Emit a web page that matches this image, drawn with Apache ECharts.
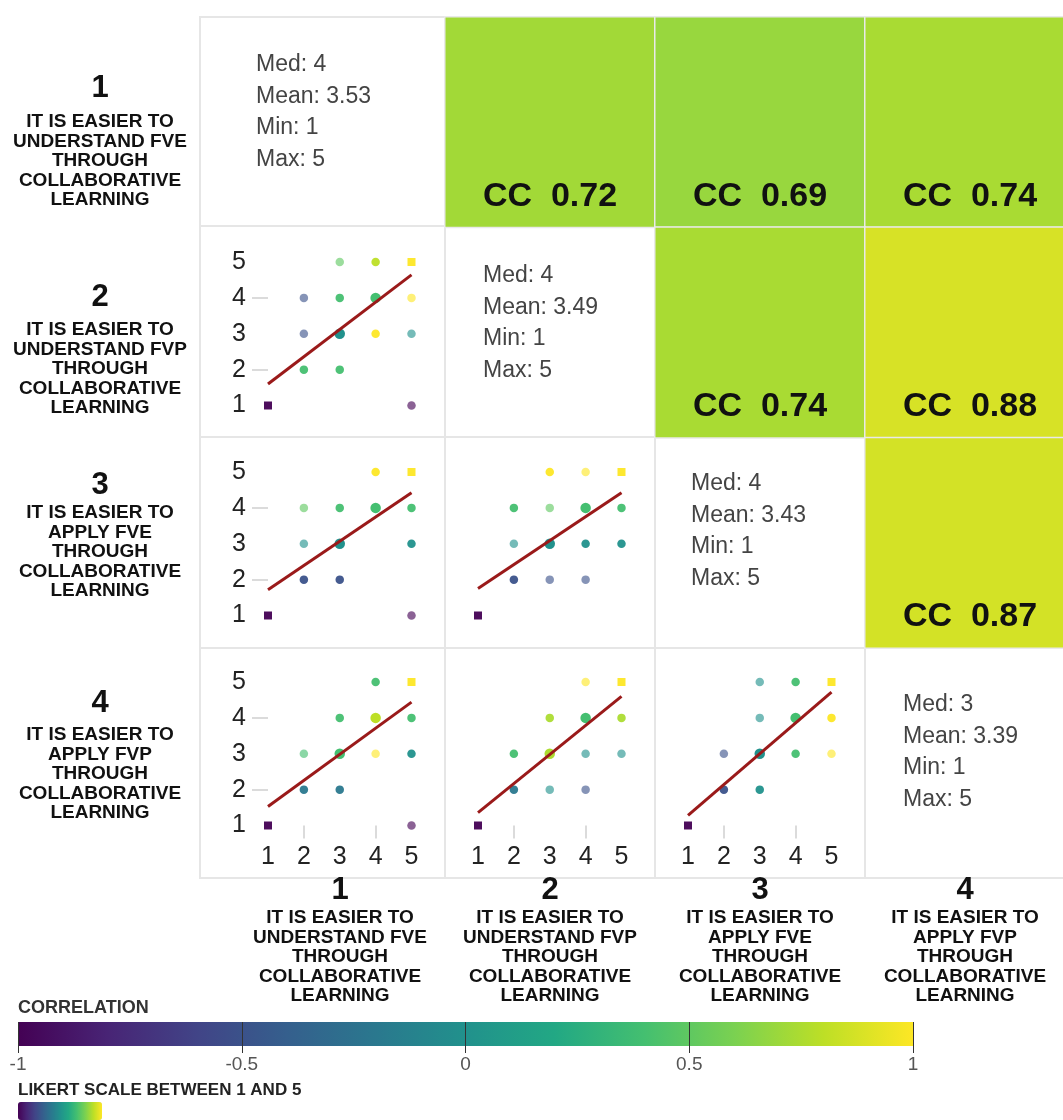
<!DOCTYPE html>
<html><head><meta charset="utf-8">
<script src="https://cdn.jsdelivr.net/npm/echarts@6/dist/echarts.min.js"></script>
<style>html,body{margin:0;padding:0;background:#fff}#c{width:1063px;height:1120px}</style>
</head><body><div id="c"></div>
<script>
// ---------------- DATA ----------------
const varNumbers = ['1', '2', '3', '4'];
const varLabels = [
  'IT IS EASIER TO\nUNDERSTAND FVE\nTHROUGH\nCOLLABORATIVE\nLEARNING',
  'IT IS EASIER TO\nUNDERSTAND FVP\nTHROUGH\nCOLLABORATIVE\nLEARNING',
  'IT IS EASIER TO\nAPPLY FVE\nTHROUGH\nCOLLABORATIVE\nLEARNING',
  'IT IS EASIER TO\nAPPLY FVP\nTHROUGH\nCOLLABORATIVE\nLEARNING'
];
const statMedian = [4, 4, 4, 3];
const statMean = [3.53, 3.49, 3.43, 3.39];
const statMin = [1, 1, 1, 1];
const statMax = [5, 5, 5, 5];
const likertTicks = ['1', '2', '3', '4', '5'];
const likertRange = [1, 5];
const corrRange = [-1, 1];
const corrTickStep = 0.5;
// [row variable, column variable, correlation coefficient]
const correlations = [
  [0, 1, 0.72], [0, 2, 0.69], [0, 3, 0.74],
  [1, 2, 0.74], [1, 3, 0.88],
  [2, 3, 0.87]
];
// scatter points: [x answer, y answer, colour value (Likert 1-5), overlap level 1-3]
const points_2v1 = [[1,1,1,2],[5,1,1,1],[2,2,3.8,2],[3,2,3.8,2],[2,3,2.0,1],[3,3,3.0,3],[4,3,5,2],[5,3,3.0,1],[2,4,2.0,1],[3,4,3.8,2],[4,4,3.8,3],[5,4,5,1],[3,5,4.0,1],[4,5,4.6,2],[5,5,5,2]];
const points_3v1 = [[1,1,1,2],[5,1,1,1],[2,2,2.0,2],[3,2,2.0,2],[2,3,3.0,1],[3,3,3.0,3],[5,3,3.0,2],[2,4,4.0,1],[3,4,3.8,2],[4,4,3.8,3],[5,4,3.8,2],[4,5,5,2],[5,5,5,2]];
const points_3v2 = [[1,1,1,2],[2,2,2.0,2],[3,2,2.0,1],[4,2,2.0,1],[2,3,3.0,1],[3,3,3.0,3],[4,3,3.0,2],[5,3,3.0,2],[2,4,3.8,2],[3,4,4.0,1],[4,4,3.8,3],[5,4,3.8,2],[3,5,5,2],[4,5,5,1],[5,5,5,2]];
const points_4v1 = [[1,1,1,2],[5,1,1,1],[2,2,2.6,2],[3,2,2.6,2],[2,3,3.8,1],[3,3,3.8,3],[4,3,5,1],[5,3,3.0,2],[3,4,3.8,2],[4,4,4.6,3],[5,4,3.8,2],[4,5,3.8,2],[5,5,5,2]];
const points_4v2 = [[1,1,1,2],[2,2,2.6,2],[3,2,3.0,1],[4,2,2.0,1],[2,3,3.8,2],[3,3,4.5,3],[4,3,3.0,1],[5,3,3.0,1],[3,4,4.5,2],[4,4,3.8,3],[5,4,4.5,2],[4,5,5,1],[5,5,5,2]];
const points_4v3 = [[1,1,1,2],[2,2,2.0,2],[3,2,3.0,2],[2,3,2.0,1],[3,3,3.0,3],[4,3,3.8,2],[5,3,5,1],[3,4,3.0,1],[4,4,3.8,3],[5,4,5,2],[3,5,3.0,1],[4,5,3.8,2],[5,5,5,2]];
// fitted regression values [y at x=1, y at x=5]
const fit_2v1 = [1.60, 4.64];
const fit_3v1 = [1.72, 4.42];
const fit_3v2 = [1.75, 4.42];
const fit_4v1 = [1.53, 4.44];
const fit_4v2 = [1.36, 4.60];
const fit_4v3 = [1.28, 4.72];

const panels = [
  {row: 1, col: 0, points: points_2v1, fit: fit_2v1},
  {row: 2, col: 0, points: points_3v1, fit: fit_3v1},
  {row: 2, col: 1, points: points_3v2, fit: fit_3v2},
  {row: 3, col: 0, points: points_4v1, fit: fit_4v1},
  {row: 3, col: 1, points: points_4v2, fit: fit_4v2},
  {row: 3, col: 2, points: points_4v3, fit: fit_4v3}
];

// ---------------- LAYOUT / STYLE ----------------
const FONT = '"Liberation Sans", Arial, Helvetica, sans-serif';
const VIRIDIS = ['#440154','#482475','#414487','#355f8d','#2a788e','#21918c','#22a884','#44bf70','#7ad151','#bddf26','#fde725'];
const colEdges = [200, 445, 655, 865, 1075];
const rowEdges = [17, 226, 437, 648, 878];
const plotLeft = [268, 478, 688];
const plotTop = [null, 262, 472, 682];
const PLOT = 143.5;
const rowNumY = [88, 297, 485, 703];
const rowLineY = [122, 330, 513, 735];
const colCenterX = [340, 550, 760, 965];
const colNumY = 890, colLineY = 918;
const statX = [256, 483, 691, 903];
const statY = [65, 276, 484, 705];
const levelOpacity = [0, 0.62, 0.95, 1];

const grid = [], xAxis = [], yAxis = [], series = [], scatterIdx = [];
const isCorner = v => v[0] === v[1] && (v[0] === 1 || v[0] === 5);

panels.forEach(p => {
  const gi = grid.length;
  grid.push({left: plotLeft[p.col], top: plotTop[p.row], width: PLOT, height: PLOT,
    containLabel: false, outerBoundsMode: 'none', show: false});
  const showX = p.row === 3, showY = p.col === 0;
  const xi = xAxis.length, yi = yAxis.length;
  xAxis.push({gridIndex: gi, type: 'value', min: likertRange[0], max: likertRange[1], show: false, position: 'top'});
  xAxis.push({gridIndex: gi, type: 'category', data: likertTicks, boundaryGap: false, show: showX, position: 'bottom',
    axisLine: {show: false, onZero: false},
    axisTick: {show: true, interval: i => i === 1 || i === 3, length: 13, lineStyle: {color: '#d0d0d0', width: 1.5}},
    axisLabel: {interval: 0, margin: 19, fontSize: 25, color: '#222', fontFamily: FONT},
    splitLine: {show: false}});
  yAxis.push({gridIndex: gi, type: 'value', min: likertRange[0], max: likertRange[1], show: false, position: 'right'});
  yAxis.push({gridIndex: gi, type: 'category', data: likertTicks, boundaryGap: false, show: showY, position: 'left',
    axisLine: {show: false, onZero: false},
    axisTick: {show: true, interval: i => i === 1 || i === 3, length: 16, lineStyle: {color: '#d0d0d0', width: 1.5}},
    axisLabel: {interval: 0, margin: 22, fontSize: 25, color: '#222', fontFamily: FONT},
    splitLine: {show: false}});
  scatterIdx.push(series.length);
  series.push({
    type: 'scatter', xAxisIndex: xi, yAxisIndex: yi, clip: false, z: 2,
    data: p.points.map(pt => ({value: pt, itemStyle: {opacity: levelOpacity[pt[3]]}})),
    symbol: v => isCorner(v) ? 'rect' : 'circle',
    symbolSize: v => isCorner(v) ? 8 : (v[3] > 2 ? 10.5 : 8.5),
    emphasis: {disabled: true}
  });
  series.push({
    type: 'line', xAxisIndex: xi, yAxisIndex: yi, clip: false, z: 3, silent: true,
    data: [[likertRange[0], p.fit[0]], [likertRange[1], p.fit[1]]],
    symbol: 'none', lineStyle: {color: '#9a1a1a', width: 3}, emphasis: {disabled: true}
  });
});

// heatmap of correlations (upper triangle)
const hmGrid = grid.length;
grid.push({left: colEdges[1], top: rowEdges[0], width: colEdges[4] - colEdges[1], height: rowEdges[3] - rowEdges[0],
  containLabel: false, outerBoundsMode: 'none'});
const hmX = xAxis.length, hmY = yAxis.length;
xAxis.push({gridIndex: hmGrid, type: 'category', data: varNumbers.slice(1), show: false});
yAxis.push({gridIndex: hmGrid, type: 'category', data: varNumbers.slice(0, 3), show: false, inverse: true});
const hmIdx = series.length;
series.push({
  type: 'heatmap', xAxisIndex: hmX, yAxisIndex: hmY,
  data: correlations.map(c => [c[1] - 1, c[0], c[2]]),
  itemStyle: {borderColor: '#e9e9e9', borderWidth: 1.5},
  label: {show: true, position: 'insideBottom', distance: 15,
    formatter: p => 'CC  ' + p.value[2].toFixed(2),
    fontSize: 34, fontWeight: 'bold', color: '#111', fontFamily: FONT},
  emphasis: {disabled: true}
});

// correlation colour bar
const cbGrid = grid.length;
grid.push({left: 18, top: 1022, width: 895, height: 24, containLabel: false, outerBoundsMode: 'none'});
const cbX = xAxis.length, cbY = yAxis.length;
xAxis.push({gridIndex: cbGrid, type: 'value', min: corrRange[0], max: corrRange[1], interval: corrTickStep, z: 10,
  axisLine: {show: false},
  axisTick: {show: true, length: 7, lineStyle: {color: '#333', width: 1}},
  splitLine: {show: true, lineStyle: {color: '#333', width: 1}},
  axisLabel: {margin: 9, fontSize: 19, color: '#555', fontFamily: FONT}});
yAxis.push({gridIndex: cbGrid, type: 'value', min: 0, max: 1, show: false});
series.push({
  type: 'custom', xAxisIndex: cbX, yAxisIndex: cbY, silent: true, z: 2,
  data: [[corrRange[0], corrRange[1]]],
  renderItem: (params, api) => {
    const a = api.coord([api.value(0), 1]);
    const b = api.coord([api.value(1), 0]);
    return {type: 'rect', shape: {x: a[0], y: a[1], width: b[0] - a[0], height: b[1] - a[1]},
      style: {fill: new echarts.graphic.LinearGradient(0, 0, 1, 0,
        VIRIDIS.map((c, i) => ({offset: i / (VIRIDIS.length - 1), color: c})))}};
  }
});

// ---------------- GRAPHICS (cells and texts) ----------------
const graphic = [];
for (let r = 0; r < 4; r++) for (let c = 0; c < 4; c++) {
  graphic.push({type: 'rect', z: -1, silent: true,
    shape: {x: colEdges[c], y: rowEdges[r], width: colEdges[c + 1] - colEdges[c], height: rowEdges[r + 1] - rowEdges[r]},
    style: {fill: '#fff', stroke: '#e6e6e6', lineWidth: 2}});
}
function txt(x, y, text, size, weight, fill, align, valign, lh) {
  return {type: 'text', x, y, silent: true, z: 5,
    style: {text, fontSize: size, fontWeight: weight, fontFamily: FONT, fill,
      align, verticalAlign: valign, textAlign: align, textVerticalAlign: valign, lineHeight: lh}};
}
for (let i = 0; i < 4; i++) {
  graphic.push(txt(100, rowNumY[i], varNumbers[i], 31, 'bold', '#111', 'center', 'middle'));
  graphic.push(txt(100, rowLineY[i] - 9.75, varLabels[i], 19, 'bold', '#111', 'center', 'top', 19.5));
  graphic.push(txt(colCenterX[i], colNumY, varNumbers[i], 31, 'bold', '#111', 'center', 'middle'));
  graphic.push(txt(colCenterX[i], colLineY - 9.75, varLabels[i], 19, 'bold', '#111', 'center', 'top', 19.5));
  const stats = 'Med: ' + statMedian[i] + '\nMean: ' + statMean[i].toFixed(2) + '\nMin: ' + statMin[i] + '\nMax: ' + statMax[i];
  graphic.push(txt(statX[i], statY[i] - 15.75, stats, 23, 'normal', '#444', 'left', 'top', 31.5));
}
graphic.push(txt(18, 1008, 'CORRELATION', 18, 'bold', '#333', 'left', 'middle'));
graphic.push(txt(18, 1090, 'LIKERT SCALE BETWEEN 1 AND 5', 17, 'bold', '#222', 'left', 'middle'));

const option = {
  animation: false,
  backgroundColor: '#fff',
  grid, xAxis, yAxis, series, graphic,
  visualMap: [
    {type: 'continuous', min: corrRange[0], max: corrRange[1], show: false, dimension: 2,
      seriesIndex: [hmIdx], inRange: {color: VIRIDIS}},
    {type: 'continuous', min: likertRange[0], max: likertRange[1], show: true, dimension: 2,
      seriesIndex: scatterIdx, inRange: {color: VIRIDIS},
      orient: 'horizontal', left: 18, top: 1102, itemWidth: 18, itemHeight: 84, padding: 0,
      calculable: false, hoverLink: false, text: null, showLabel: false}
  ]
};
const chart = echarts.init(document.getElementById('c'));
chart.setOption(option);
</script>
</body></html>
